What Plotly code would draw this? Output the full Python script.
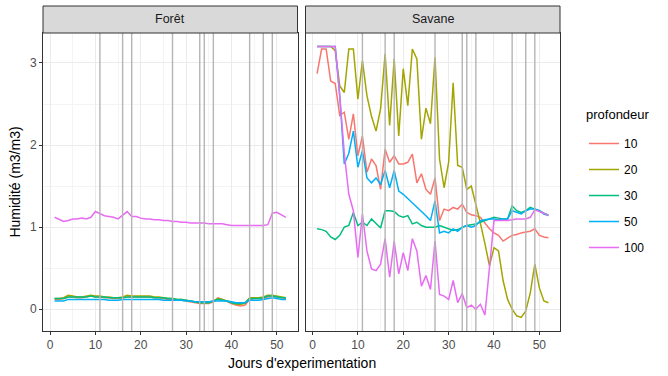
import plotly.graph_objects as go
from plotly.subplots import make_subplots

depths = ["10", "20", "30", "50", "100"]
colors = ["#F8766D", "#A3A500", "#00BF7D", "#00B0F6", "#E76BF3"]
event_days = [11, 16, 18, 27, 33, 34, 36, 44, 47, 49]
x_ticks = [0, 10, 20, 30, 40, 50]
y_ticks = [0, 1, 2, 3]

foret_10 = [0.12,0.12,0.13,0.15,0.15,0.14,0.14,0.15,0.16,0.15,
            0.15,0.14,0.14,0.13,0.13,0.14,0.15,0.15,0.15,0.15,
            0.15,0.15,0.14,0.14,0.13,0.12,0.12,0.11,0.11,0.10,
            0.09,0.08,0.07,0.07,0.07,0.09,0.14,0.12,0.09,0.07,
            0.05,0.04,0.05,0.12,0.13,0.13,0.13,0.15,0.16,0.15,
            0.14,0.13]
foret_20 = [0.13,0.13,0.14,0.17,0.16,0.15,0.15,0.16,0.17,0.16,
            0.16,0.15,0.15,0.14,0.14,0.15,0.17,0.16,0.16,0.16,
            0.16,0.16,0.15,0.15,0.14,0.13,0.13,0.12,0.12,0.11,
            0.10,0.09,0.08,0.08,0.08,0.10,0.13,0.12,0.10,0.08,
            0.06,0.06,0.07,0.14,0.14,0.14,0.15,0.17,0.17,0.16,
            0.15,0.14]
foret_30 = [0.13,0.13,0.13,0.15,0.15,0.15,0.15,0.15,0.16,0.15,
            0.15,0.15,0.14,0.14,0.14,0.14,0.15,0.15,0.15,0.15,
            0.15,0.15,0.14,0.14,0.14,0.13,0.13,0.12,0.12,0.11,
            0.10,0.09,0.08,0.08,0.08,0.10,0.12,0.11,0.10,0.08,
            0.07,0.07,0.08,0.13,0.13,0.13,0.14,0.16,0.16,0.15,
            0.14,0.14]
foret_50 = [0.10,0.10,0.10,0.12,0.12,0.12,0.12,0.12,0.12,0.12,
            0.12,0.12,0.11,0.11,0.11,0.12,0.12,0.12,0.12,0.12,
            0.12,0.12,0.12,0.12,0.11,0.11,0.11,0.11,0.11,0.10,
            0.10,0.09,0.09,0.09,0.09,0.10,0.10,0.10,0.10,0.09,
            0.08,0.08,0.08,0.11,0.11,0.11,0.12,0.13,0.14,0.13,
            0.12,0.12]
foret_100 = [1.12,1.09,1.07,1.08,1.10,1.10,1.11,1.10,1.12,1.19,
             1.16,1.14,1.13,1.12,1.10,1.14,1.19,1.13,1.13,1.11,
             1.10,1.10,1.09,1.09,1.08,1.08,1.07,1.07,1.06,1.06,
             1.05,1.05,1.05,1.05,1.04,1.04,1.04,1.04,1.03,1.02,
             1.02,1.02,1.02,1.02,1.02,1.02,1.02,1.03,1.17,1.18,
             1.15,1.12]

savane_10 = [2.87,3.17,3.17,2.78,2.75,2.36,2.40,2.07,2.38,1.87,
             2.11,1.67,1.83,1.75,1.46,1.95,1.79,1.87,1.77,1.77,
             1.79,1.89,1.54,1.65,1.46,1.40,1.60,1.08,1.22,1.20,
             1.24,1.22,1.28,1.18,1.15,1.14,1.12,1.05,0.98,0.93,
             0.90,0.83,0.87,0.90,0.91,0.93,0.94,0.95,0.98,0.90,
             0.88,0.87]
savane_20 = [3.20,3.20,3.20,3.20,3.15,2.72,2.64,3.17,3.17,2.56,
             3.03,2.60,2.35,2.17,2.44,3.11,2.24,3.05,2.11,2.93,
             2.48,3.17,3.05,2.07,2.45,2.26,3.07,1.83,1.48,1.79,
             2.76,1.75,1.73,1.46,1.50,1.28,1.05,0.80,0.53,0.75,
             0.71,0.35,0.12,0.00,-0.08,-0.10,-0.02,0.20,0.55,0.26,
             0.10,0.08]
savane_30 = [0.98,0.97,0.95,0.88,0.85,0.90,1.00,1.02,1.18,1.02,
             1.06,1.02,1.10,1.04,0.99,1.20,1.20,1.19,1.14,1.12,
             1.14,1.04,1.06,1.02,1.00,1.00,1.00,1.02,1.00,0.98,
             0.96,0.97,1.00,1.02,1.03,1.04,1.06,1.08,1.10,1.12,
             1.11,1.10,1.10,1.26,1.20,1.18,1.20,1.24,1.22,1.20,
             1.17,1.15]
savane_50 = [3.20,3.20,3.20,3.20,3.20,2.60,1.77,1.90,2.17,1.73,
             1.93,1.60,1.54,1.60,1.52,1.69,1.48,1.69,1.44,1.40,
             1.35,1.30,1.24,1.20,1.14,1.08,1.32,0.93,0.95,0.93,
             0.98,0.95,1.00,1.02,1.00,1.02,1.08,1.09,1.10,1.10,
             1.09,1.10,1.10,1.20,1.18,1.16,1.20,1.22,1.22,1.20,
             1.16,1.14]
savane_100 = [3.20,3.20,3.20,3.20,3.20,2.60,1.90,1.40,1.20,0.63,
              1.16,0.71,0.49,0.47,0.55,0.86,0.39,0.83,0.43,0.69,
              0.47,0.86,0.71,0.28,0.41,0.24,0.83,0.18,0.16,0.12,
              0.35,0.08,0.19,0.02,0.05,0.00,0.06,-0.07,0.51,1.08,
              1.08,1.08,1.08,1.09,1.10,1.10,1.10,1.12,1.21,1.19,
              1.17,1.14]

foret = [foret_10, foret_20, foret_30, foret_50, foret_100]
savane = [savane_10, savane_20, savane_30, savane_50, savane_100]
panels = ["Forêt", "Savane"]
legend_title = "profondeur"

W, H = 668, 376
ml, mr, mt, mb = 43, 108, 33, 45
pw = W - ml - mr
ph = H - mt - mb
gap = 8

fig = make_subplots(rows=1, cols=2, shared_yaxes=True, horizontal_spacing=gap / pw)

for col, data in enumerate([foret, savane], start=1):
    for d, c, vals in zip(depths, colors, data):
        days = list(range(1, len(vals) + 1))
        fig.add_trace(go.Scatter(x=days, y=vals, mode="lines", name=d,
                                 legendgroup=d, showlegend=(col == 1),
                                 line=dict(color=c, width=1.5)), row=1, col=col)

font = "Liberation Sans, Arial, sans-serif"
axis_common = dict(showline=True, linecolor="#333333", linewidth=1, mirror=True,
                   ticks="outside", ticklen=3, tickcolor="#333333",
                   tickfont=dict(family=font, size=12, color="#4D4D4D"),
                   showgrid=True, gridcolor="#EBEBEB", gridwidth=1, zeroline=False)

for col in (1, 2):
    fig.update_xaxes(range=[-1.55, 54.55], tickvals=x_ticks,
                     minor=dict(tickvals=[5, 15, 25, 35, 45], showgrid=True,
                                gridcolor="#F4F4F4", gridwidth=0.6, ticks=""),
                     row=1, col=col, **axis_common)
    fig.update_yaxes(range=[-0.265, 3.365], tickvals=y_ticks,
                     minor=dict(tickvals=[0.5, 1.5, 2.5], showgrid=True,
                                gridcolor="#F4F4F4", gridwidth=0.6, ticks=""),
                     row=1, col=col, **axis_common)
fig.update_yaxes(showticklabels=False, ticks="", row=1, col=2)
fig.update_yaxes(title=dict(text="Humidité (m3/m3)", font=dict(family=font, size=14, color="#000000"),
                            standoff=6), row=1, col=1)

shapes = []
for xr in ("x", "x2"):
    for dday in event_days:
        shapes.append(dict(type="line", xref=xr, yref=("y" if xr == "x" else "y2") + " domain",
                           x0=dday, x1=dday, y0=0, y1=1, layer="above",
                           line=dict(color="#B5B5B5", width=1.4)))
strip_h = 27 / ph
doms = [fig.layout.xaxis.domain, fig.layout.xaxis2.domain]
annotations = []
for dom, name in zip(doms, panels):
    shapes.append(dict(type="rect", xref="paper", yref="paper", x0=dom[0], x1=dom[1],
                       y0=1, y1=1 + strip_h, fillcolor="#D9D9D9",
                       line=dict(color="#333333", width=1), layer="above"))
    annotations.append(dict(text=name, xref="paper", yref="paper", x=(dom[0] + dom[1]) / 2,
                            y=1 + strip_h / 2, showarrow=False, xanchor="center", yanchor="middle",
                            font=dict(family=font, size=12.5, color="#1A1A1A")))
annotations.append(dict(text="Jours d'experimentation", xref="paper", yref="paper", x=0.5,
                        y=-0.075, yanchor="top", showarrow=False,
                        font=dict(family=font, size=14, color="#000000")))
annotations.append(dict(text=legend_title, xref="paper", yref="paper",
                        x=1 + (584 - (W - mr)) / pw, y=1 - (115 - mt) / ph,
                        xanchor="left", yanchor="middle", showarrow=False,
                        font=dict(family=font, size=13, color="#000000")))

fig.update_layout(
    width=W, height=H, margin=dict(l=ml, r=mr, t=mt, b=mb),
    paper_bgcolor="white", plot_bgcolor="white",
    shapes=shapes, annotations=annotations,
    legend=dict(font=dict(family=font, size=12, color="#000000"),
                x=1 + (584 - (W - mr)) / pw, y=1 - (129 - mt) / ph,
                xanchor="left", yanchor="top",
                tracegroupgap=7, itemwidth=30),
    font=dict(family=font),
)

fig.write_html("out.html", config={"displayModeBar": False},
               post_script="document.body.style.margin='0';document.body.style.padding='0';")
